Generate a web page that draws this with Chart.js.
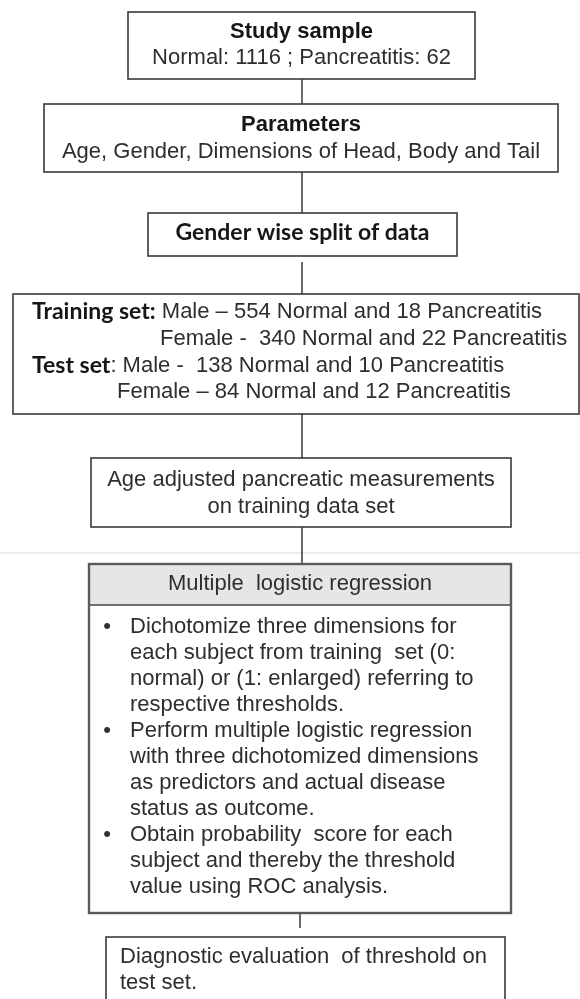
<!DOCTYPE html>
<html>
<head>
<meta charset="utf-8">
<script src="https://cdn.jsdelivr.net/npm/chart.js@4.4.1/dist/chart.umd.min.js"></script>
<style>
  html, body { margin: 0; padding: 0; background: #ffffff; }
  #flow { display: block; }
</style>
</head>
<body>
<canvas id="flow" width="580" height="999"></canvas>
<script>
// Counts shown in the flow
const sampleCounts = [1116, 62];          // normal, pancreatitis
const trainMale = [554, 18];
const trainFemale = [340, 22];
const testMale = [138, 10];
const testFemale = [84, 12];

// Text of each step
const sampleTitle = 'Study sample';
const paramTitle = 'Parameters';
const paramList = ['Age', 'Gender', 'Dimensions of Head', 'Body and Tail'];
const splitTitle = 'Gender wise split of data';
const ageAdjusted = ['Age adjusted pancreatic measurements', 'on training data set'];
const regressionTitle = 'Multiple  logistic regression';
const regressionSteps = [
    ['Dichotomize three dimensions for', 'each subject from training  set (0:', 'normal) or (1: enlarged) referring to', 'respective thresholds.'],
    ['Perform multiple logistic regression', 'with three dichotomized dimensions', 'as predictors and actual disease', 'status as outcome.'],
    ['Obtain probability  score for each', 'subject and thereby the threshold', 'value using ROC analysis.']
];
const evaluation = ['Diagnostic evaluation  of threshold on', 'test set.'];

// Box frames in axis units: [left, right, top, bottom]
const frames = [
    [128, 475, 12, 79],
    [44, 558, 104, 172],
    [148, 457, 213, 256],
    [13, 579, 294, 414],
    [91, 511, 458, 527],
    [89, 511, 564, 913],
    [106, 505, 937, 1010]
];

const REG = '22px "Liberation Sans", Arial, sans-serif';
const BOLD_A = 'bold 22px "Liberation Sans", Arial, sans-serif';
const BOLD_C = 'bold 23px Lato, "Liberation Sans", sans-serif';
const TXT = '#2e2e2e';
const DARK = '#161616';

const flowPlugin = {
    id: 'flow',
    afterDraw(chart) {
        const c = chart.ctx;
        const sx = v => chart.scales.x.getPixelForValue(v);
        const sy = v => chart.scales.y.getPixelForValue(v);

        function box(f, lw, col) {
            c.save();
            c.strokeStyle = col || '#3a3a3a';
            c.lineWidth = lw || 1.6;
            c.strokeRect(sx(f[0]), sy(f[2]), sx(f[1]) - sx(f[0]), sy(f[3]) - sy(f[2]));
            c.restore();
        }
        function vline(x, y0, y1) {
            c.save();
            c.strokeStyle = '#444444';
            c.lineWidth = 1.6;
            c.beginPath();
            c.moveTo(sx(x), sy(y0));
            c.lineTo(sx(x), sy(y1));
            c.stroke();
            c.restore();
        }
        function text(s, x, y, font, col, align) {
            c.save();
            c.font = font;
            c.fillStyle = col || TXT;
            c.textAlign = align || 'center';
            c.textBaseline = 'middle';
            c.fillText(s, sx(x), sy(y));
            c.restore();
            c.font = font;
            return c.measureText(s).width;
        }
        function mid(f) { return (f[0] + f[1]) / 2; }

        // faint seam across the page
        c.save();
        c.strokeStyle = '#ededed';
        c.lineWidth = 2;
        c.beginPath();
        c.moveTo(sx(0), sy(553));
        c.lineTo(sx(580), sy(553));
        c.stroke();
        c.restore();

        // connectors
        vline(302, frames[0][3], frames[1][2]);
        vline(302, frames[1][3], frames[2][2]);
        vline(302, 262, frames[3][2]);
        vline(302, frames[3][3], frames[4][2]);
        vline(302, frames[4][3], frames[5][2]);
        vline(300, frames[5][3], 928);

        // 1 study sample
        box(frames[0]);
        text(sampleTitle, mid(frames[0]), 32, BOLD_A, DARK);
        text('Normal: ' + sampleCounts[0] + ' ; Pancreatitis: ' + sampleCounts[1], mid(frames[0]), 58, REG);

        // 2 parameters
        box(frames[1]);
        text(paramTitle, mid(frames[1]), 125, BOLD_A, DARK);
        text(paramList.join(', '), mid(frames[1]), 152, REG);

        // 3 split
        box(frames[2]);
        text(splitTitle, mid(frames[2]), 233, BOLD_C, DARK);

        // 4 training / test sets
        box(frames[3]);
        let w = text('Training set:', 32, 312, BOLD_C, DARK, 'left');
        text(' Male \u2013 ' + trainMale[0] + ' Normal and ' + trainMale[1] + ' Pancreatitis', 32 + w, 312, REG, TXT, 'left');
        text('Female -  ' + trainFemale[0] + ' Normal and ' + trainFemale[1] + ' Pancreatitis', 160, 339, REG, TXT, 'left');
        w = text('Test set', 32, 366, BOLD_C, DARK, 'left');
        text(': Male -  ' + testMale[0] + ' Normal and ' + testMale[1] + ' Pancreatitis', 32 + w, 366, REG, TXT, 'left');
        text('Female \u2013 ' + testFemale[0] + ' Normal and ' + testFemale[1] + ' Pancreatitis', 117, 392, REG, TXT, 'left');

        // 5 age adjusted
        box(frames[4]);
        text(ageAdjusted[0], mid(frames[4]), 480, REG);
        text(ageAdjusted[1], mid(frames[4]), 507, REG);

        // 6 regression block with grey header
        const f6 = frames[5];
        c.save();
        c.fillStyle = '#e6e6e6';
        c.fillRect(sx(f6[0]), sy(f6[2]), sx(f6[1]) - sx(f6[0]), sy(605) - sy(f6[2]));
        c.strokeStyle = '#444444';
        c.lineWidth = 1.6;
        c.beginPath();
        c.moveTo(sx(f6[0]), sy(605));
        c.lineTo(sx(f6[1]), sy(605));
        c.stroke();
        c.restore();
        box(f6, 2.4, '#5a5a5a');
        text(regressionTitle, mid(f6), 584, REG);
        let y = 627;
        regressionSteps.forEach(step => {
            text('\u2022', 107, y, REG, TXT, 'center');
            step.forEach(line => {
                text(line, 130, y, REG, TXT, 'left');
                y += 26;
            });
        });

        // 7 evaluation
        box(frames[6]);
        text(evaluation[0], 120, 957, REG, TXT, 'left');
        text(evaluation[1], 120, 983, REG, TXT, 'left');
    }
};

const ctx = document.getElementById('flow').getContext('2d');
new Chart(ctx, {
    type: 'scatter',
    data: { datasets: [{ data: [] }] },
    options: {
        responsive: false,
        animation: false,
        events: [],
        layout: { padding: 0 },
        plugins: { legend: { display: false }, tooltip: { enabled: false } },
        scales: {
            x: { type: 'linear', min: 0, max: 580, display: false },
            y: { type: 'linear', min: 0, max: 999, reverse: true, display: false }
        }
    },
    plugins: [flowPlugin]
});
</script>
</body>
</html>
